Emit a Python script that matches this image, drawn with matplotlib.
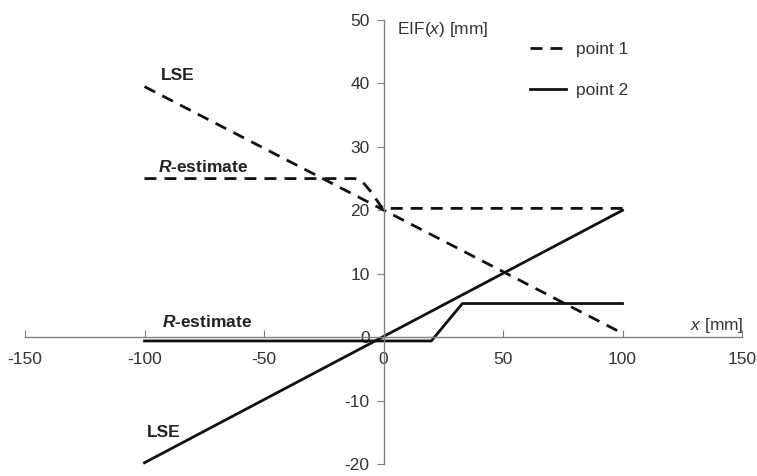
import matplotlib
matplotlib.use("Agg")
import matplotlib.pyplot as plt

# point 1 (dashed)
p1_lse_x = [-100, 100]
p1_lse_y = [39.5, 0.6]
p1_r_x = [-100, -12, -9, -5, -1, 0, 100]
p1_r_y = [25.0, 25.0, 24.6, 22.8, 20.6, 20.3, 20.3]

# point 2 (solid)
p2_lse_x = [-100, 100]
p2_lse_y = [-19.8, 20.0]
p2_r_x = [-100, 20, 33, 100]
p2_r_y = [-0.6, -0.6, 5.3, 5.3]

x_ticks = [-150, -100, -50, 0, 50, 100, 150]
y_ticks = [-20, -10, 0, 10, 20, 30, 40, 50]

plt.rcParams["font.family"] = ["Liberation Sans", "DejaVu Sans"]
plt.rcParams["axes.unicode_minus"] = False
plt.rcParams["mathtext.fontset"] = "custom"
plt.rcParams["mathtext.rm"] = "Liberation Sans"
plt.rcParams["mathtext.it"] = "Liberation Sans:italic"
plt.rcParams["mathtext.bf"] = "Liberation Sans:bold"
plt.rcParams["mathtext.bfit"] = "Liberation Sans:italic:bold"

text_color = "#333333"
axis_color = "#808080"
fs = 12.5

fig = plt.figure(figsize=(7.57, 4.76), dpi=100)
ax = fig.add_axes([25 / 757, 1 - 464 / 476, 717 / 757, 444 / 476])
ax.set_xlim(-150, 150)
ax.set_ylim(-20, 50)

dash = (0, (4.3, 2.9))
line_kw = dict(color="#111111", linewidth=2.0, clip_on=False)
ax.plot(p1_lse_x, p1_lse_y, linestyle=dash, label="point 1", **line_kw)
ax.plot(p1_r_x, p1_r_y, linestyle=dash, **line_kw)
ax.plot(p2_lse_x, p2_lse_y, linestyle="-", label="point 2", **line_kw)
ax.plot(p2_r_x, p2_r_y, linestyle="-", **line_kw)

# axes through the origin
for side in ("top", "right"):
    ax.spines[side].set_visible(False)
ax.spines["left"].set_position(("data", 0))
ax.spines["bottom"].set_position(("data", 0))
for side in ("left", "bottom"):
    ax.spines[side].set_color(axis_color)
    ax.spines[side].set_linewidth(1.0)
ax.set_xticks(x_ticks)
ax.set_yticks(y_ticks)
ax.tick_params(axis="x", direction="in", length=5, color=axis_color,
               labelsize=fs, labelcolor=text_color, pad=11)
ax.tick_params(axis="y", direction="out", length=5, color=axis_color,
               labelsize=fs, labelcolor=text_color, pad=5)

# axis titles
ax.text(5.6, 48.5, "EIF($\\mathit{x}$) [mm]", fontsize=fs, color=text_color,
        va="center", ha="left")
ax.text(150.5, 1.9, "$\\mathit{x}$ [mm]", fontsize=fs, color=text_color,
        va="center", ha="right")

# curve annotations
bold = dict(fontsize=fs, color="#222222", fontweight="bold", va="center", ha="center")
ax.text(-86, 41.3, "LSE", **bold)
ax.text(-75.5, 26.8, "$\\mathbfit{R}$-estimate", **bold)
ax.text(-74, 2.4, "$\\mathbfit{R}$-estimate", **bold)
ax.text(-92, -15.1, "LSE", **bold)

leg = ax.legend(loc="upper left", bbox_to_anchor=(530 / 757, 1 - 42 / 476),
                bbox_transform=fig.transFigure, frameon=False, fontsize=fs,
                handlelength=2.1, labelspacing=1.5, handletextpad=0.57,
                borderpad=0, borderaxespad=0)
for t in leg.get_texts():
    t.set_color(text_color)

fig.savefig("out.png", dpi=100)
